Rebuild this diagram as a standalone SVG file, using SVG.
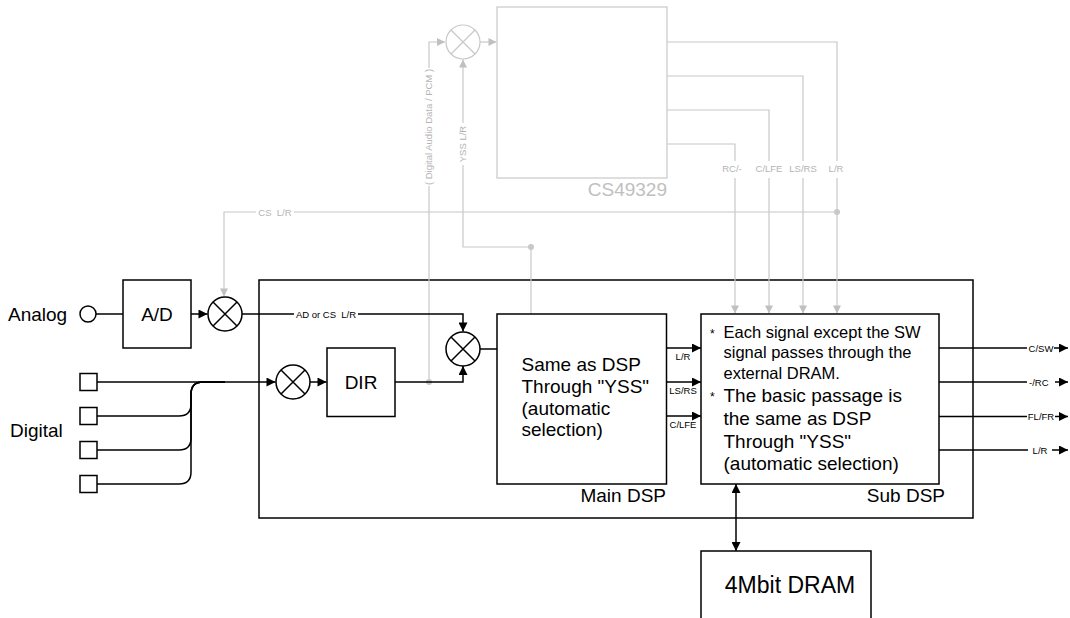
<svg xmlns="http://www.w3.org/2000/svg" width="1070" height="618" viewBox="0 0 1070 618">
<style>
.bk{fill:none;stroke:#000;stroke-width:1.5}
.gr{fill:none;stroke:#c8c8c8;stroke-width:1.2}
.box{fill:#fff;stroke:#000;stroke-width:1.5}
.gbox{fill:none;stroke:#c8c8c8;stroke-width:1.2}
.bg{fill:#fff;stroke:none}
.t{font-family:"Liberation Sans",Arial,sans-serif;font-size:19px;fill:#000}
.s{font-family:"Liberation Sans",Arial,sans-serif;font-size:9.5px;fill:#000;white-space:pre}
.gs{font-family:"Liberation Sans",Arial,sans-serif;font-size:9.5px;fill:#b4b4b4;white-space:pre}
.n{font-family:"Liberation Sans",Arial,sans-serif;font-size:16.5px;fill:#000}
.st{font-family:"Liberation Sans",Arial,sans-serif;font-size:12px;fill:#000}
.gt{font-family:"Liberation Sans",Arial,sans-serif;font-size:19px;fill:#c0c0c0}
</style>
<defs>
<marker id="ab" viewBox="0 0 10 10" refX="10" refY="5" markerWidth="10" markerHeight="9" markerUnits="userSpaceOnUse" orient="auto-start-reverse"><path d="M0,0 L10,5 L0,10 z" fill="#000"/></marker>
<marker id="ag" viewBox="0 0 10 10" refX="10" refY="5" markerWidth="9" markerHeight="8" markerUnits="userSpaceOnUse" orient="auto"><path d="M0,0 L10,5 L0,10 z" fill="#c0c0c0"/></marker>
</defs>
<rect width="1070" height="618" fill="#fff"/>

<g id="outer"><rect x="259" y="280" width="714" height="238" fill="none" stroke="#000" stroke-width="1.5"/></g>

<g id="connectors">
<!-- gray -->
<path class="gr" d="M429,382 V42 H445" marker-end="url(#ag)"/>
<path class="gr" d="M480,42 H496.5" marker-end="url(#ag)"/>
<path class="gr" d="M531,314 V247 H463 V59.5" marker-end="url(#ag)"/>
<path class="gr" d="M667,42 H837 V313.5" marker-end="url(#ag)"/>
<path class="gr" d="M667,76 H803 V313.5" marker-end="url(#ag)"/>
<path class="gr" d="M667,110 H769 V313.5" marker-end="url(#ag)"/>
<path class="gr" d="M667,144 H735 V313.5" marker-end="url(#ag)"/>
<path class="gr" d="M837,212 H224 V296.5" marker-end="url(#ag)"/>
<circle cx="429" cy="382" r="3" fill="#c8c8c8"/>
<circle cx="531" cy="247" r="3" fill="#c8c8c8"/>
<circle cx="837" cy="212" r="3" fill="#c8c8c8"/>
<rect class="bg" x="424" y="68" width="10" height="118"/>
<text class="gs" transform="translate(429,127) rotate(-90)" text-anchor="middle" dy="0.35em">( Digital Audio Data / PCM )</text>
<rect class="bg" x="458" y="123" width="10" height="42"/>
<text class="gs" transform="translate(463,144) rotate(-90)" text-anchor="middle" dy="0.35em">YSS L/R</text>
<rect class="bg" x="256" y="207" width="38" height="10"/>
<text class="gs" x="275" y="215.5" text-anchor="middle">CS  L/R</text>
<rect class="bg" x="720" y="161" width="125" height="17"/>
<text class="gs" x="732" y="172" text-anchor="middle">RC/-</text>
<text class="gs" x="769" y="172" text-anchor="middle">C/LFE</text>
<text class="gs" x="803" y="172" text-anchor="middle">LS/RS</text>
<text class="gs" x="836" y="172" text-anchor="middle">L/R</text>
<!-- black -->
<path class="bk" d="M96,314 H123"/>
<path class="bk" d="M191,314 H207.5" marker-end="url(#ab)"/>
<path class="bk" d="M242,314 H463 V331.5" marker-end="url(#ab)"/>
<rect class="bg" x="294" y="308" width="64" height="12"/>
<text class="s" x="326" y="317.5" text-anchor="middle">AD or CS  L/R</text>
<path class="bk" d="M97,382 H275.5" marker-end="url(#ab)"/>
<path class="bk" d="M97,416 H179 Q191,416 191,404 V394 Q191,382 203,382 H225"/>
<path class="bk" d="M97,450 H179 Q191,450 191,438 V394 Q191,382 203,382 H225"/>
<path class="bk" d="M97,484 H179 Q191,484 191,472 V394 Q191,382 203,382 H225"/>
<path class="bk" d="M310,382 H326.5" marker-end="url(#ab)"/>
<path class="bk" d="M395,382 H463 V366" marker-end="url(#ab)"/>
<path class="bk" d="M480,349 H497"/>
<path class="bk" d="M666,348 H701" marker-end="url(#ab)"/>
<path class="bk" d="M666,382 H701" marker-end="url(#ab)"/>
<path class="bk" d="M666,416 H701" marker-end="url(#ab)"/>
<text class="s" x="683" y="360" text-anchor="middle">L/R</text>
<text class="s" x="683" y="394" text-anchor="middle">LS/RS</text>
<text class="s" x="683" y="428" text-anchor="middle">C/LFE</text>
<path class="bk" d="M939,348 H1068" marker-end="url(#ab)"/>
<path class="bk" d="M939,382 H1068" marker-end="url(#ab)"/>
<path class="bk" d="M939,416.5 H1068" marker-end="url(#ab)"/>
<path class="bk" d="M939,450 H1068" marker-end="url(#ab)"/>
<rect class="bg" x="1027" y="342" width="27" height="12"/>
<rect class="bg" x="1027" y="376" width="28" height="12"/>
<rect class="bg" x="1027" y="410.5" width="28" height="12"/>
<rect class="bg" x="1028" y="444" width="24" height="12"/>
<text class="s" x="1041" y="351.5" text-anchor="middle">C/SW</text>
<text class="s" x="1029" y="385.5">-/RC</text>
<text class="s" x="1041" y="420" text-anchor="middle">FL/FR</text>
<text class="s" x="1040" y="453.5" text-anchor="middle">L/R</text>
<path class="bk" d="M736,484 V551" marker-start="url(#ab)" marker-end="url(#ab)"/>
</g>

<g id="cs49329">
<rect x="497" y="7" width="170" height="171" class="gbox"/>
<text class="gt" x="667" y="196" text-anchor="end">CS49329</text>
</g>
<g id="gmixer">
<circle cx="463" cy="42" r="17" fill="#fff" stroke="#c8c8c8" stroke-width="1.2"/>
<path class="gr" d="M451,30 L475,54 M475,30 L451,54"/>
</g>

<g id="analog">
<text class="t" x="8" y="321">Analog</text>
<circle cx="88" cy="314" r="8" class="box"/>
</g>
<g id="ad">
<rect x="123" y="280" width="68" height="68" class="box"/>
<text class="t" x="157" y="321" text-anchor="middle">A/D</text>
</g>
<g id="amixer">
<circle cx="225" cy="314" r="17" class="box"/>
<path class="bk" d="M213,302 L237,326 M237,302 L213,326"/>
</g>

<g id="digital">
<text class="t" x="10" y="437">Digital</text>
<rect x="80" y="373.5" width="17" height="17" class="box"/>
<rect x="80" y="407.5" width="17" height="17" class="box"/>
<rect x="80" y="441.5" width="17" height="17" class="box"/>
<rect x="80" y="475.5" width="17" height="17" class="box"/>
</g>
<g id="dmixer">
<circle cx="293" cy="382" r="17" class="box"/>
<path class="bk" d="M281,370 L305,394 M305,370 L281,394"/>
</g>
<g id="dir">
<rect x="327" y="348" width="68" height="68.5" class="box"/>
<text class="t" x="361" y="389" text-anchor="middle">DIR</text>
</g>
<g id="cmixer">
<circle cx="463" cy="349" r="17" class="box"/>
<path class="bk" d="M451,337 L475,361 M475,337 L451,361"/>
</g>

<g id="maindsp">
<rect x="497" y="314" width="169.5" height="170" class="box"/>
<text class="t" x="521.5" y="371">Same as DSP</text>
<text class="t" x="521.5" y="393">Through "YSS"</text>
<text class="t" x="521.5" y="414.5">(automatic</text>
<text class="t" x="521.5" y="436">selection)</text>
<text class="t" x="666" y="502" text-anchor="end">Main DSP</text>
</g>

<g id="subdsp">
<rect x="701" y="314" width="238" height="170" class="box"/>
<text class="st" x="710" y="337.5">*</text>
<text class="n" x="723.5" y="337.5">Each signal except the SW</text>
<text class="n" x="723.5" y="358">signal passes through the</text>
<text class="n" x="723.5" y="378.5">external DRAM.</text>
<text class="st" x="710" y="401">*</text>
<text class="t" x="723.5" y="401.5">The basic passage is</text>
<text class="t" x="723.5" y="424.5">the same as DSP</text>
<text class="t" x="723.5" y="447.5">Through "YSS"</text>
<text class="t" x="723.5" y="470">(automatic selection)</text>
<text class="t" x="945" y="502" text-anchor="end">Sub DSP</text>
</g>

<g id="dram">
<rect x="701" y="551" width="170" height="80" class="box"/>
<text class="t" x="790" y="593" text-anchor="middle" style="font-size:23px">4Mbit DRAM</text>
</g>
</svg>
